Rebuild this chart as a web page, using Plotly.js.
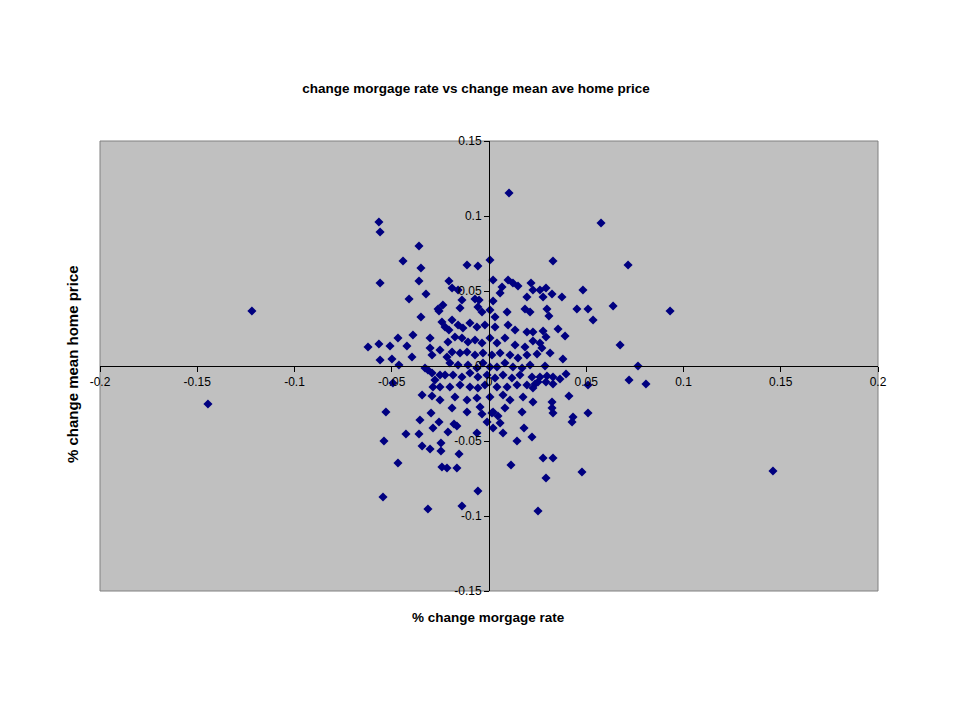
<!DOCTYPE html>
<html>
<head>
<meta charset="utf-8">
<script src="https://cdn.plot.ly/plotly-3.0.1.min.js"></script>
<style>html,body{margin:0;padding:0;background:#fff;}#chart{width:960px;height:720px;}</style>
</head>
<body>
<div id="chart"></div>
<script>
const chartTitle = "change morgage rate vs change mean ave home price";
const xAxisTitle = "% change morgage rate";
const yAxisTitle = "% change mean home price";
const xTickVals = [-0.2, -0.15, -0.1, -0.05, 0, 0.05, 0.1, 0.15, 0.2];
const xTickText = ["-0.2", "-0.15", "-0.1", "-0.05", "0", "0.05", "0.1", "0.15", "0.2"];
const yTickVals = [-0.15, -0.1, -0.05, 0, 0.05, 0.1, 0.15];
const yTickText = ["-0.15", "-0.1", "-0.05", "0", "0.05", "0.1", "0.15"];

const changeMortgageRate = [
0.0103,-0.0566,-0.056,0.0576,-0.036,-0.0442,-0.035,-0.056,-0.036,-0.0324,-0.0411,-0.0206,-0.019,-0.0237,-0.0262,
-0.0113,-0.0057,0.0005,-0.0159,0.0021,0.0067,0.0098,0.0123,0.0149,0.0216,0.0226,0.0195,0.0021,-0.0072,-0.0051,
-0.0139,-0.0149,-0.0057,0.0057,0.0329,0.0483,0.0262,0.0293,0.0278,0.0324,0.0375,0.0638,0.0452,0.0509,0.0298,
0.0715,0.0931,-0.1219,0.0535,0.0674,0.0766,0.072,0.0807,-0.1445,0.146,-0.0545,-0.0314,-0.0139,-0.0057,0.0252,
0.0293,0.0478,0.0278,0.0329,0.0113,-0.0468,-0.054,-0.053,-0.0494,0.0509,0.0432,0.0427,0.0329,0.0221,
-0.0622,-0.0566,-0.0509,-0.0468,-0.0422,-0.0391,-0.035,-0.0257,-0.0242,-0.0226,-0.0206,-0.0303,-0.0303,-0.0293,-0.0252,
-0.0216,-0.0396,-0.056,-0.0499,-0.0463,-0.0329,-0.0314,-0.0293,-0.0252,-0.0226,-0.0278,-0.0252,-0.0288,-0.0344,-0.0293,
-0.0252,-0.0298,0.0308,0.0355,0.0391,0.0278,0.0293,0.0226,0.0262,0.0272,0.0314,0.0247,0.038,0.0288,0.0396,
0.0365,0.0329,0.0298,0.0262,0.0252,0.0237,0.0293,0.0329,0.0509,0.0411,0.0226,0.0324,0.0324,
-0.0355,-0.0257,-0.0288,-0.0211,-0.0427,-0.036,-0.0344,-0.0303,-0.0247,-0.0247,-0.0242,-0.0216,
-0.0036,-0.001,0.0015,0.0046,0.0057,0.0021,0.0072,-0.0165,-0.018,-0.0062,0.018,0.0144,-0.0154,-0.0165,
-0.0036,0.0005,0.0031,0.0093,0.0185,0.0211,-0.019,-0.0159,-0.0134,-0.0098,-0.0062,-0.0021,0.0031,0.0098,0.0134,0.0195,0.0226,
-0.0211,-0.0175,-0.0139,-0.0108,-0.0072,-0.0036,0.0005,0.0041,0.0082,0.0134,0.0185,
-0.019,-0.0149,-0.0113,-0.0072,-0.0031,0.0015,0.0057,0.0108,0.0149,0.0195,
-0.0201,-0.0159,-0.0108,-0.0062,-0.0031,0.0005,0.0041,0.0082,0.0123,0.017,0.0211,
-0.0185,-0.0139,-0.0098,-0.0057,-0.001,0.0031,0.0072,0.0118,0.0159,0.0221,
-0.0201,-0.0149,-0.0098,-0.0057,-0.0021,0.0041,0.0093,0.0144,0.0195,0.0226,
-0.0175,-0.0113,-0.0062,0.0005,0.0072,0.0108,0.0175,
-0.019,-0.0113,-0.0046,0.0021,0.0082,0.017
];
const changeHomePrice = [
0.1153,0.096,0.0893,0.0953,0.08,0.07,0.0653,0.0553,0.0567,0.048,0.0447,0.0567,0.052,0.0407,0.038,
0.0673,0.0667,0.0707,0.0507,0.0573,0.0527,0.0573,0.0553,0.0533,0.0553,0.0507,0.046,0.0433,0.0447,0.044,
0.044,0.0387,0.0393,0.0487,0.07,0.0507,0.0507,0.052,0.046,0.048,0.046,0.04,0.038,0.038,0.038,
0.0673,0.0367,0.0367,0.0307,0.014,0,-0.0093,-0.012,-0.0253,-0.07,-0.0873,-0.0953,-0.0933,-0.0833,-0.0967,
-0.0747,-0.0707,-0.0613,-0.0613,-0.066,-0.0647,-0.05,-0.0307,-0.0113,-0.0313,-0.034,-0.0373,-0.0313,-0.0473,
0.0127,0.0147,0.0133,0.0187,0.0133,0.0207,0.0327,0.0367,0.0293,0.026,0.024,0.0187,0.012,0.0073,0.0107,
0.006,0.006,0.004,0.0047,0.0007,-0.0013,-0.0027,-0.0047,-0.006,-0.006,-0.0093,-0.014,-0.014,-0.0193,-0.02,
-0.0227,-0.0313,0.0333,0.0247,0.02,0.0233,0.0193,0.0167,0.0153,0.012,0.0087,0.008,0.0047,0,-0.0053,
-0.0087,-0.0073,-0.0067,-0.0073,-0.0107,-0.012,-0.0107,-0.012,-0.0127,-0.02,-0.024,-0.024,-0.028,
-0.036,-0.0373,-0.0413,-0.044,-0.0453,-0.0453,-0.0533,-0.0553,-0.0513,-0.0567,-0.0673,-0.068,
-0.032,-0.0373,-0.0313,-0.0333,-0.038,-0.0413,-0.0447,-0.04,-0.0387,-0.0447,-0.0413,-0.05,-0.0587,-0.068,
0.036,0.0373,0.0327,0.036,0.038,0.036,0.0307,0.0273,0.0253,0.0287,0.026,0.0273,0.026,0.0273,0.024,0.0227,0.0227,
0.016,0.0193,0.0187,0.016,0.0173,0.0153,0.0187,0.0153,0.0187,0.014,0.0127,
0.0093,0.0087,0.0093,0.0073,0.0087,0.0073,0.0087,0.0073,0.0053,0.0073,
0.002,0.0007,0.0007,-0.0013,0.002,-0.0007,-0.0007,0.002,-0.0007,-0.0013,0.0007,
-0.006,-0.0073,-0.0047,-0.0073,-0.006,-0.008,-0.006,-0.008,-0.006,-0.0073,
-0.014,-0.0127,-0.014,-0.0147,-0.0127,-0.014,-0.014,-0.0127,-0.0127,-0.0147,
-0.0207,-0.0227,-0.0213,-0.0207,-0.0193,-0.0227,-0.0207,
-0.028,-0.0307,-0.0273,-0.0307,-0.028,-0.0307
];

const trace = {
  type: 'scatter',
  mode: 'markers',
  x: changeMortgageRate,
  y: changeHomePrice,
  marker: {symbol: 'diamond', size: 7, color: '#000080', line: {width: 0}},
  hoverinfo: 'x+y'
};

const layout = {
  width: 960, height: 720,
  margin: {l: 100, r: 82, t: 141, b: 129, pad: 0},
  paper_bgcolor: '#ffffff',
  plot_bgcolor: '#c0c0c0',
  showlegend: false,
  font: {family: 'Liberation Sans, Arial, sans-serif', size: 12, color: '#000'},
  title: {
    text: chartTitle,
    font: {family: 'Liberation Sans, Arial, sans-serif', size: 13.5, color: '#000', weight: 'bold'},
    xref: 'container', yref: 'container', x: 476/960, y: 1 - 88/720, xanchor: 'center', yanchor: 'middle'
  },
  xaxis: {
    range: [-0.2, 0.2], anchor: 'free', position: 0.5,
    tickvals: xTickVals, ticktext: xTickText,
    showline: true, linecolor: '#000', linewidth: 1,
    ticks: 'outside', ticklen: 5, tickcolor: '#000', tickwidth: 1,
    showgrid: false, zeroline: false, fixedrange: true,
    tickfont: {size: 12, color: '#000'}
  },
  yaxis: {
    range: [-0.15, 0.15], anchor: 'free', position: 0.5,
    tickvals: yTickVals, ticktext: yTickText,
    showline: true, linecolor: '#000', linewidth: 1,
    ticks: 'outside', ticklen: 5, tickcolor: '#000', tickwidth: 1,
    showgrid: false, zeroline: false, fixedrange: true,
    tickfont: {size: 12, color: '#000'}
  },
  shapes: [{
    type: 'rect', xref: 'paper', yref: 'paper', x0: 0, x1: 1, y0: 0, y1: 1,
    line: {color: '#808080', width: 1}, layer: 'below'
  }],
  annotations: [
    {text: xAxisTitle, xref: 'paper', yref: 'paper', x: (488-100)/778, y: (591-617)/450,
     xanchor: 'center', yanchor: 'middle', showarrow: false,
     font: {size: 13.5, color: '#000', weight: 'bold'}},
    {text: yAxisTitle, xref: 'paper', yref: 'paper', x: (72-100)/778, y: (591-364)/450,
     xanchor: 'center', yanchor: 'middle', showarrow: false, textangle: -90,
     font: {size: 15, color: '#000', weight: 'bold'}}
  ]
};

Plotly.newPlot('chart', [trace], layout, {displayModeBar: false, staticPlot: true});
</script>
</body>
</html>
